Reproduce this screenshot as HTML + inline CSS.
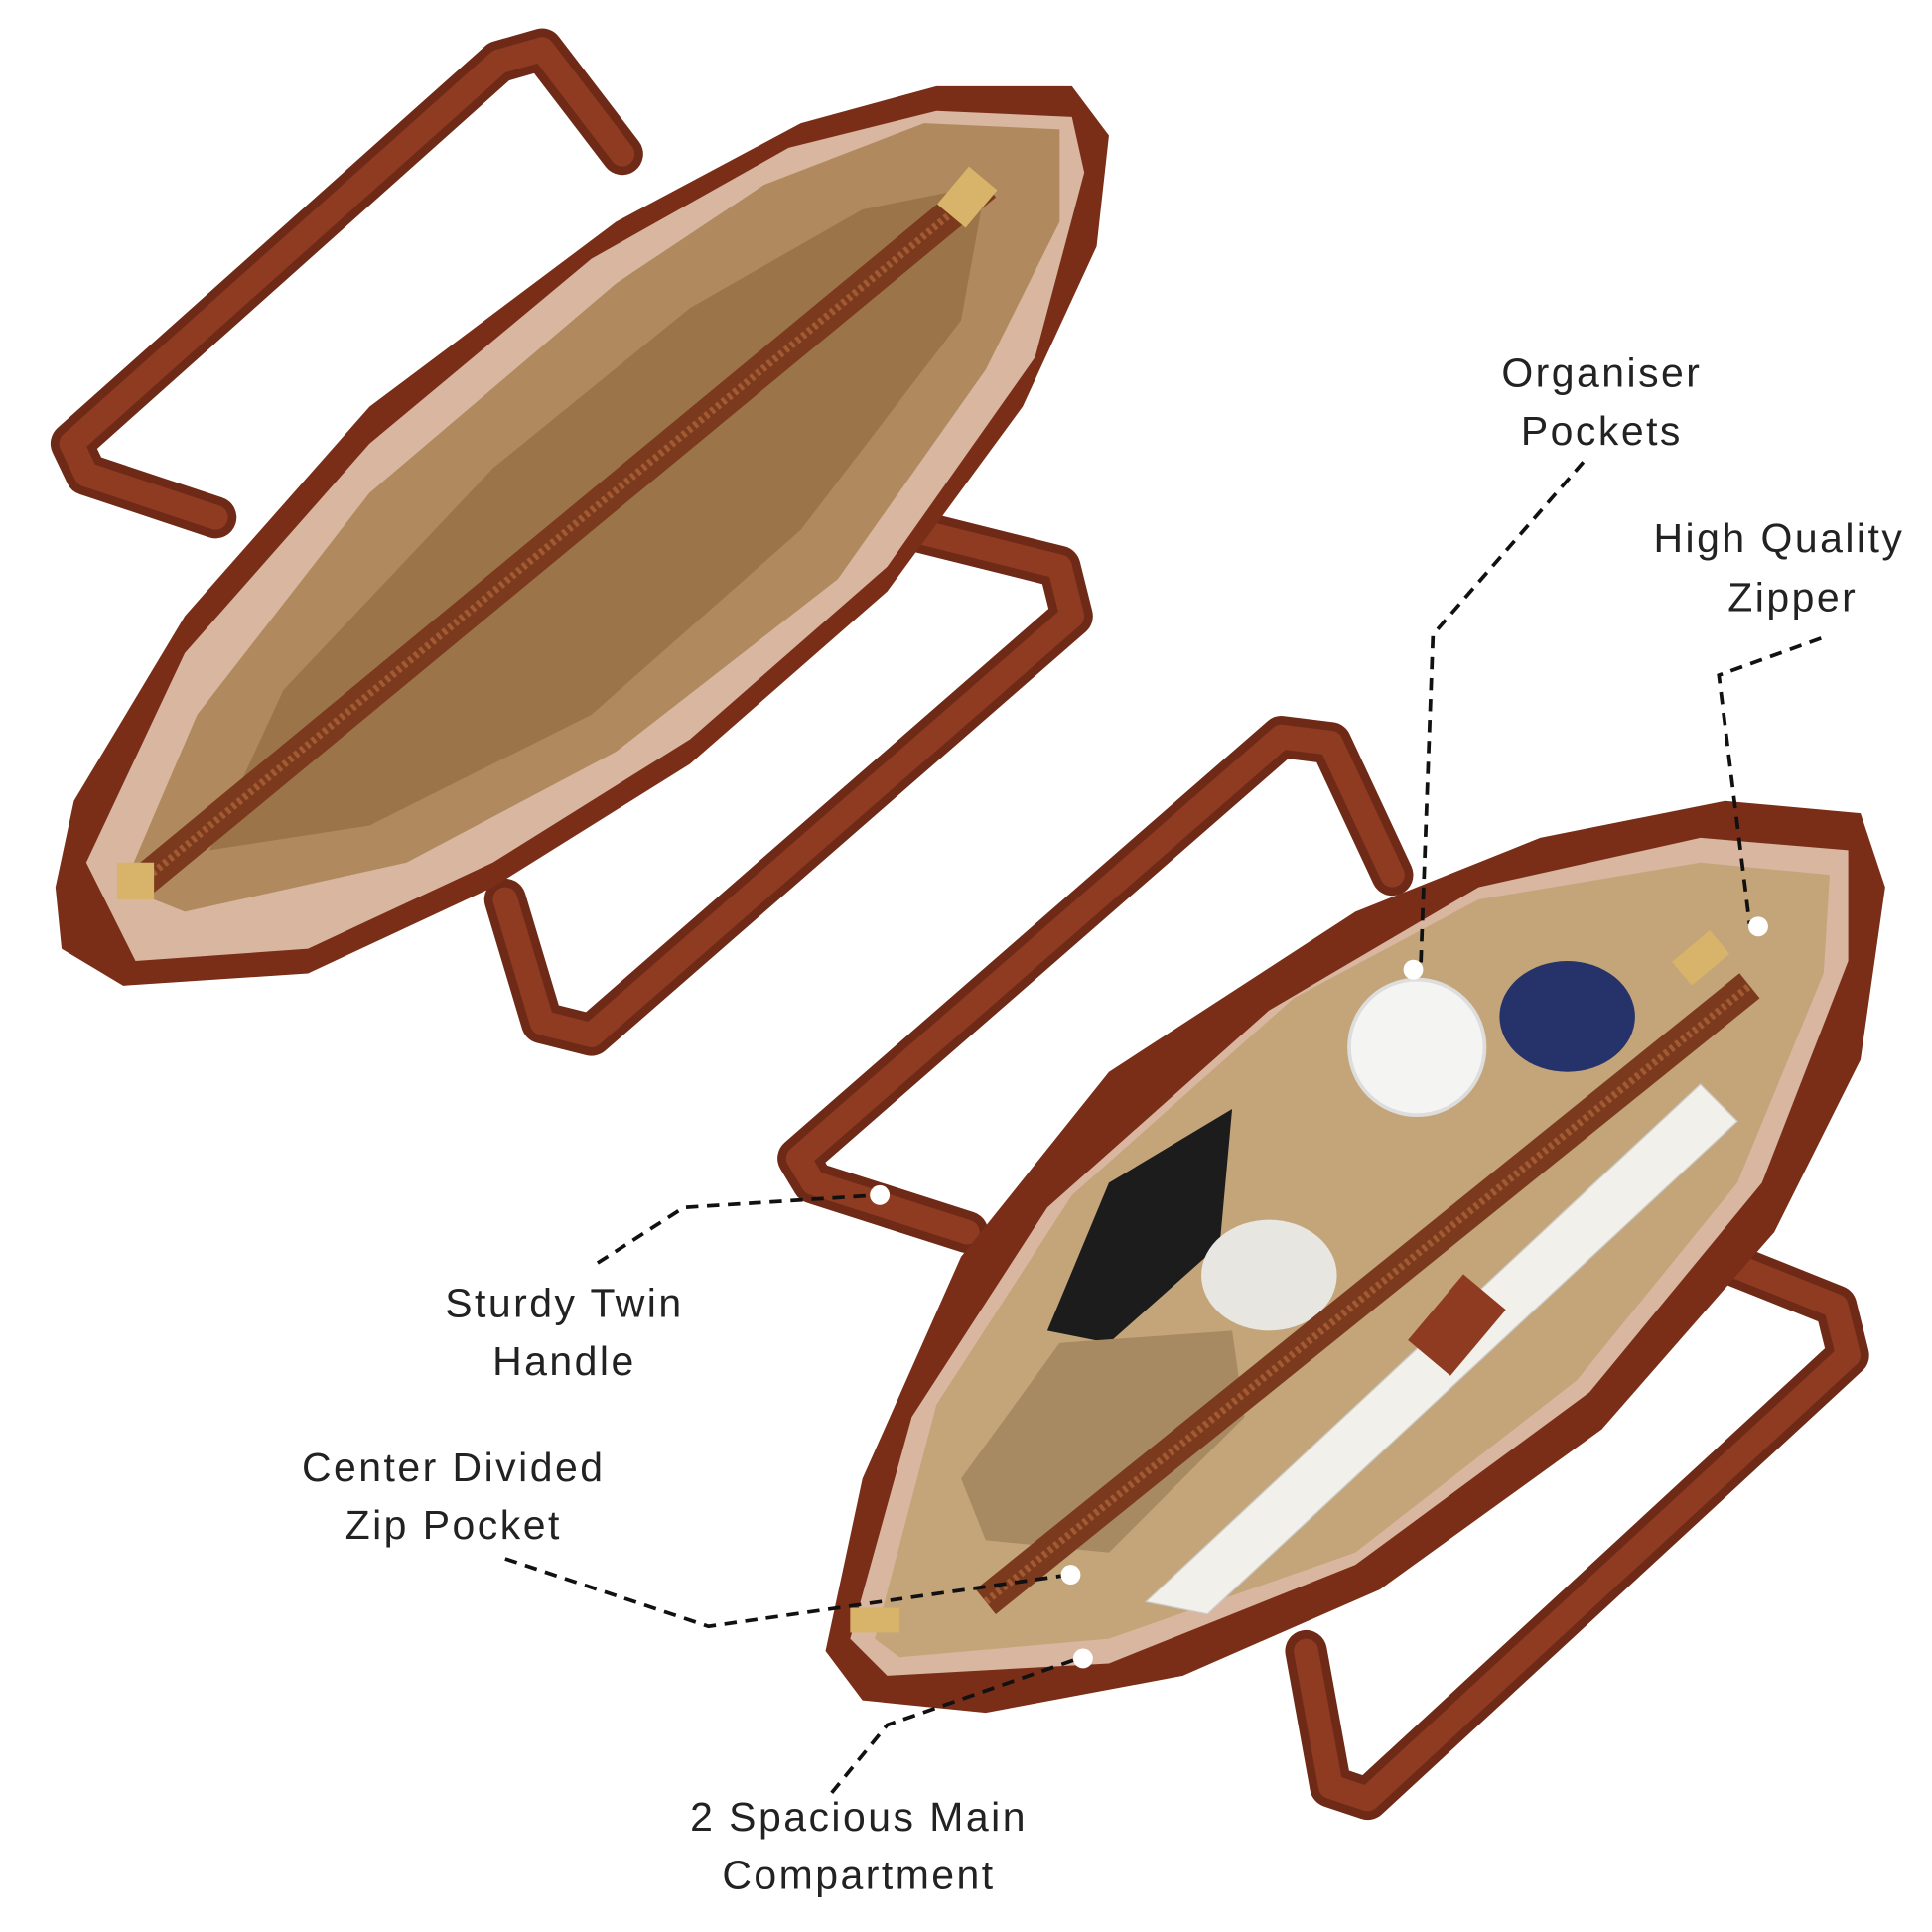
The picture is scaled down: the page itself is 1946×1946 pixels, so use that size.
<!DOCTYPE html>
<html><head><meta charset="utf-8"><style>
html,body{margin:0;padding:0;background:#fff;}
svg{display:block}
text{font-family:"Liberation Sans",sans-serif;font-size:33px;fill:#222;letter-spacing:2px;text-anchor:middle}
</style></head><body>
<svg width="1946" height="1946" viewBox="0 0 1568 1568" xmlns="http://www.w3.org/2000/svg">
<rect width="1568" height="1568" fill="#fff"/>
<!-- Bag 1 handles -->
<g fill="none" stroke-linecap="round" stroke-linejoin="round">
<path d="M175,420 L70,385 L58,360 L405,50 L440,40 L505,125" stroke="#6e2a17" stroke-width="34"/>
<path d="M175,420 L70,385 L58,360 L405,50 L440,40 L505,125" stroke="#8e3b22" stroke-width="20"/>
<path d="M740,430 L860,460 L870,500 L480,840 L440,830 L410,730" stroke="#6e2a17" stroke-width="34"/>
<path d="M740,430 L860,460 L870,500 L480,840 L440,830 L410,730" stroke="#8e3b22" stroke-width="20"/>
</g>
<!-- Bag 1 body -->
<polygon points="45,720 60,650 150,500 300,330 500,180 650,100 760,70 870,70 900,110 890,200 830,330 720,480 560,620 400,720 250,790 100,800 50,770" fill="#7a2e18"/>
<polygon points="70,700 150,530 300,360 480,210 640,120 760,90 870,95 880,140 840,290 720,460 560,600 400,700 250,770 110,780" fill="#d9b6a0"/>
<polygon points="100,720 160,580 300,400 500,230 620,150 750,100 860,105 860,180 800,300 680,470 500,610 330,700 150,740" fill="#b08a5e"/>
<polygon points="170,690 230,560 400,380 560,250 700,170 800,150 780,260 650,430 480,580 300,670" fill="#9c7449"/>
<path d="M110,720 L800,150" stroke="#7b3a1e" stroke-width="26"/>
<path d="M110,720 L800,150" stroke="#a25a32" stroke-width="6" stroke-dasharray="3 3"/>
<rect x="770" y="140" width="30" height="40" fill="#d8b36a" transform="rotate(40 785 160)"/>
<rect x="95" y="700" width="30" height="30" fill="#d8b36a"/>
<!-- Bag 2 handles -->
<g fill="none" stroke-linecap="round" stroke-linejoin="round">
<path d="M785,1000 L660,960 L648,940 L1040,598 L1080,603 L1130,710" stroke="#6e2a17" stroke-width="34"/>
<path d="M785,1000 L660,960 L648,940 L1040,598 L1080,603 L1130,710" stroke="#8e3b22" stroke-width="20"/>
<path d="M1390,1020 L1490,1060 L1500,1100 L1110,1460 L1080,1450 L1060,1340" stroke="#6e2a17" stroke-width="34"/>
<path d="M1390,1020 L1490,1060 L1500,1100 L1110,1460 L1080,1450 L1060,1340" stroke="#8e3b22" stroke-width="20"/>
</g>
<!-- Bag 2 body -->
<polygon points="670,1340 700,1200 780,1020 900,870 1100,740 1250,680 1400,650 1510,660 1530,720 1510,860 1440,1000 1300,1160 1120,1290 960,1360 800,1390 700,1380" fill="#7a2e18"/>
<polygon points="690,1330 740,1150 850,980 1030,820 1200,720 1380,680 1500,690 1500,780 1430,960 1290,1130 1100,1270 900,1350 720,1360" fill="#d9b6a0"/>
<polygon points="710,1330 760,1140 870,970 1050,810 1200,730 1380,700 1485,710 1480,790 1410,960 1280,1120 1100,1260 900,1330 730,1345" fill="#c4a57a"/>
<!-- items -->
<circle cx="1150" cy="850" r="55" fill="#f4f4f2" stroke="#ddd" stroke-width="3"/>
<ellipse cx="1272" cy="825" rx="55" ry="45" fill="#25336a"/>
<polygon points="850,1080 900,960 1000,900 990,1010 900,1090" fill="#1c1c1c"/>
<ellipse cx="1030" cy="1035" rx="55" ry="45" fill="#e8e6e0"/>
<polygon points="930,1300 1380,880 1410,910 980,1310" fill="#f2f0ea" stroke="#ccc"/>
<polygon points="780,1200 860,1090 1000,1080 1010,1150 900,1260 800,1250" fill="#a88a62"/>
<rect x="1160" y="1040" width="45" height="70" fill="#8e3b22" transform="rotate(40 1182 1075)"/>
<path d="M800,1300 L1420,800" stroke="#7b3a1e" stroke-width="26"/>
<path d="M800,1300 L1420,800" stroke="#a25a32" stroke-width="6" stroke-dasharray="3 3"/>
<rect x="1360" y="765" width="40" height="25" fill="#d8b36a" transform="rotate(-40 1380 777)"/>
<rect x="690" y="1305" width="40" height="20" fill="#d8b36a"/>
<!-- connectors -->
<g fill="none" stroke="#111" stroke-width="3" stroke-dasharray="10 7">
<polyline points="1285,375 1163,515 1153,785"/>
<polyline points="1478,518 1395,548 1420,750"/>
<polyline points="485,1025 555,980 712,970"/>
<polyline points="410,1265 575,1320 868,1278"/>
<polyline points="675,1455 720,1400 878,1345"/>
</g>
<g fill="#fff">
<circle cx="1147" cy="787" r="8"/><circle cx="1427" cy="752" r="8"/>
<circle cx="714" cy="970" r="8"/><circle cx="869" cy="1278" r="8"/><circle cx="879" cy="1346" r="8"/>
</g>
<!-- labels -->
<text x="1300" y="314">Organiser</text>
<text x="1300" y="361">Pockets</text>
<text x="1342" y="448" style="text-anchor:start">High Quality</text>
<text x="1455" y="496">Zipper</text>
<text x="458" y="1069">Sturdy Twin</text>
<text x="458" y="1116">Handle</text>
<text x="368" y="1202">Center Divided</text>
<text x="368" y="1249">Zip Pocket</text>
<text x="697" y="1486">2 Spacious Main</text>
<text x="697" y="1533">Compartment</text>
</svg>
</body></html>
